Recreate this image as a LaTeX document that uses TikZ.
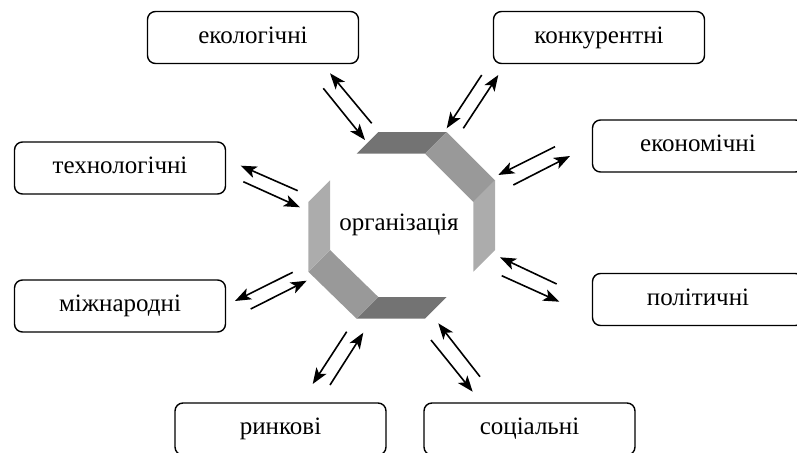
\documentclass[tikz,border=0pt]{standalone}
\usepackage{fontspec}
\setmainfont{Liberation Serif}
\usetikzlibrary{arrows.meta}
\definecolor{banddark}{RGB}{115,115,115}
\definecolor{bandmid}{RGB}{153,153,153}
\definecolor{bandlight}{RGB}{172,172,172}
\begin{document}
\begin{tikzpicture}[x=1pt,y=-1pt,
  box/.style={draw, line width=1.4pt, rounded corners=8pt, minimum width=211pt,
    minimum height=52pt, inner sep=0pt, font=\fontsize{25}{29}\selectfont,
    text height=11.5pt, text depth=0pt},
  arr/.style={line width=1.6pt, -{Stealth[length=16pt,width=12pt,inset=4pt]}}]
\useasboundingbox (0,0) rectangle (797,452);
\clip (0,0) rectangle (797,452);
% octagon (front ring A, back ring B = A + (-21.7,21.7))
\coordinate (a1) at (378.3,132);
\coordinate (a2) at (446.7,132);
\coordinate (a3) at (495,180.3);
\coordinate (a4) at (495,250);
\coordinate (a5) at (446.7,297);
\coordinate (a6) at (378.3,297);
\coordinate (a7) at (330,250);
\coordinate (a8) at (330,180.3);
\coordinate (b1) at (356.6,153.7);
\coordinate (b2) at (425,153.7);
\coordinate (b3) at (473.3,202);
\coordinate (b4) at (473.3,271.7);
\coordinate (b5) at (425,318.7);
\coordinate (b6) at (356.6,318.7);
\coordinate (b7) at (308.3,271.7);
\coordinate (b8) at (308.3,202);
\fill[banddark] (a1) -- (a2) -- (b2) -- (b1) -- cycle;
\fill[bandmid] (a2) -- (a3) -- (b3) -- (b2) -- cycle;
\fill[bandlight] (a3) -- (a4) -- (b4) -- (b3) -- cycle;
\fill[banddark] (a5) -- (a6) -- (b6) -- (b5) -- cycle;
\fill[bandmid] (a6) -- (a7) -- (b7) -- (b6) -- cycle;
\fill[bandlight] (a7) -- (a8) -- (b8) -- (b7) -- cycle;
\node[font=\fontsize{25}{29}\selectfont, anchor=base, inner sep=0pt] (org) at (399,230.5) {організація};
% boxes
\node[box] (eco) at (253,37.5) {екологічні};
\node[box] (kon) at (599,37.5) {конкурентні};
\node[box] (ekn) at (698,146) {економічні};
\node[box] (teh) at (120,168) {технологічні};
\node[box] (mzh) at (120,306) {міжнародні};
\node[box] (pol) at (698,299.5) {політичні};
\node[box] (ryn) at (280.5,429) {ринкові};
\node[box] (soc) at (529.5,429) {соціальні};
% arrow end points
\coordinate (p1a) at (371.7,123.3); \coordinate (p1b) at (330,73.3);
\coordinate (p1c) at (323.3,88.3);  \coordinate (p1d) at (365,140);
\coordinate (p2a) at (481.7,75);    \coordinate (p2b) at (446.7,128.3);
\coordinate (p2c) at (463.3,128.3); \coordinate (p2d) at (498.3,75);
\coordinate (p3a) at (555,146.7);   \coordinate (p3b) at (498.3,175);
\coordinate (p3c) at (513.3,185);   \coordinate (p3d) at (570,156);
\coordinate (p4a) at (556.7,284);   \coordinate (p4b) at (500,257.3);
\coordinate (p4c) at (501.7,275.7); \coordinate (p4d) at (559.3,301.7);
\coordinate (p5a) at (480,376.7);   \coordinate (p5b) at (438.3,323.3);
\coordinate (p5c) at (431,340);     \coordinate (p5d) at (472.7,391.7);
\coordinate (p6a) at (346.7,331.7); \coordinate (p6b) at (312.7,384);
\coordinate (p6c) at (330,385);     \coordinate (p6d) at (363.3,332.7);
\coordinate (p7a) at (292.7,272.3); \coordinate (p7b) at (235,301);
\coordinate (p7c) at (250.7,309);   \coordinate (p7d) at (306.7,280.7);
\coordinate (p8a) at (297.7,190.7); \coordinate (p8b) at (240.7,165.7);
\coordinate (p8c) at (243.3,181.7); \coordinate (p8d) at (300,207.3);
\foreach \i in {1,...,8}{
  \draw[arr] (p\i a) -- (p\i b);
  \draw[arr] (p\i c) -- (p\i d);
}
\end{tikzpicture}
\end{document}
